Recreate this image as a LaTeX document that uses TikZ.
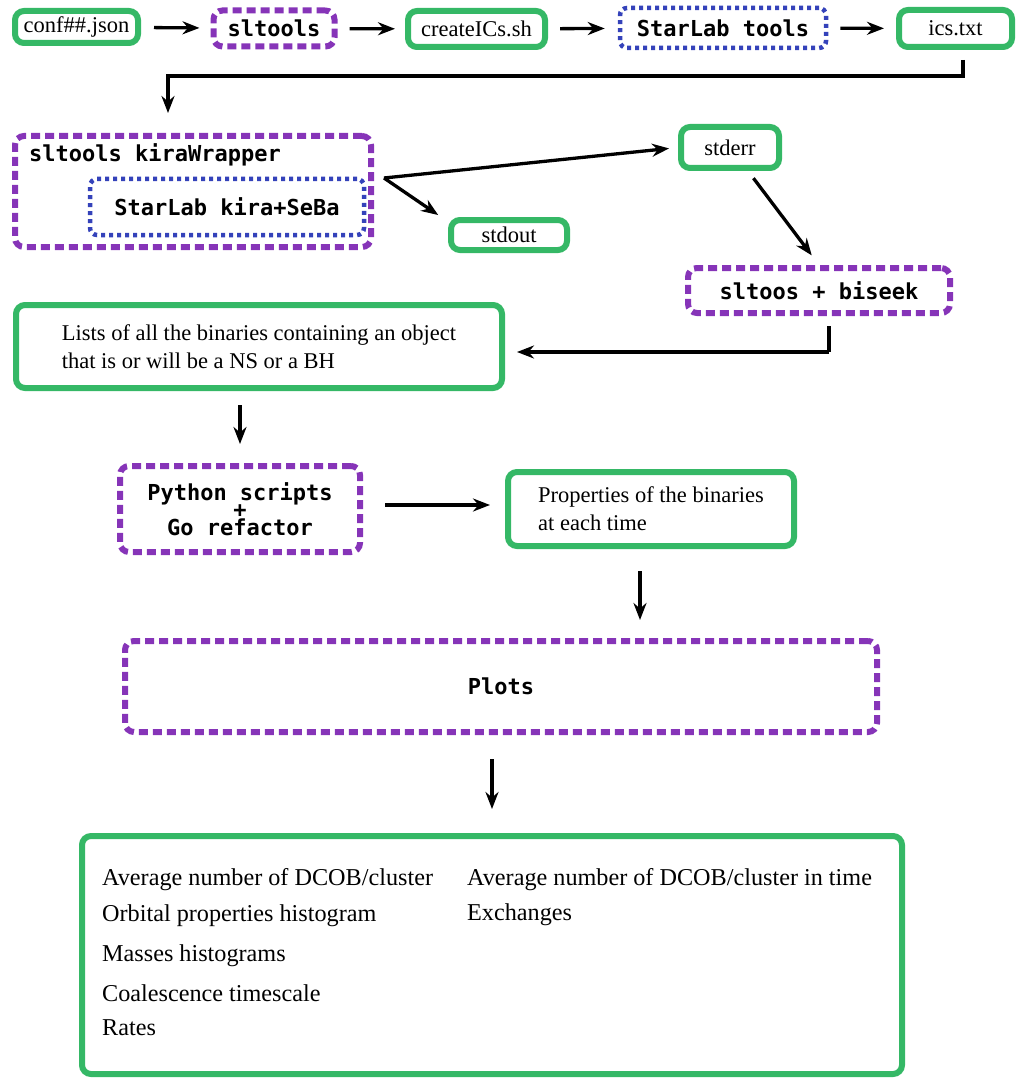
\documentclass[tikz,border=0pt]{standalone}
\usepackage{fontspec}
\setmainfont{Liberation Serif}
\newfontfamily\monob{DejaVu Sans Mono}
\usetikzlibrary{arrows.meta,calc}
\definecolor{gboxc}{RGB}{53,184,102}
\definecolor{pboxc}{RGB}{134,52,184}
\definecolor{bboxc}{RGB}{52,66,186}
\tikzset{
  gbox/.style={draw=gboxc, line width=6pt, rounded corners=9pt, inner sep=0pt, font=\fontsize{22.5}{28}\selectfont},
  pbox/.style={draw=pboxc, line width=6pt, rounded corners=9pt, dash pattern=on 9pt off 5pt, inner sep=0pt, font=\monob\bfseries\fontsize{22}{26}\selectfont},
  bbox/.style={draw=bboxc, line width=4.5pt, rounded corners=7pt, dash pattern=on 4pt off 4pt, inner sep=0pt, font=\monob\bfseries\fontsize{22}{26}\selectfont},
  conn/.style={line width=3.3pt, -{Stealth[length=17pt,width=13pt]}},
  restext/.style={anchor=base west, inner sep=0pt, font=\fontsize{24.2}{28}\selectfont},
}
\begin{document}
\begin{tikzpicture}[x=1pt,y=-1pt]
\useasboundingbox (0,0) rectangle (1019,1078);
% top row
\node[gbox, minimum width=123, minimum height=32] (conf) at (76.5,27) {conf\#\#.json};
\node[pbox, minimum width=121, minimum height=36] (slt) at (274,28.5) {sltools};
\node[gbox, minimum width=137, minimum height=36] (cics) at (476.5,29) {createICs.sh};
\node[bbox, minimum width=206, minimum height=40] (slab) at (723,28) {StarLab tools};
\node[gbox, minimum width=113, minimum height=37] (ics) at (955.5,28.5) {ics.txt};
\draw[conn, shorten <=13pt, shorten >=11pt] (conf) -- (slt);
\draw[conn, shorten <=12pt, shorten >=10pt] (slt) -- (cics);
\draw[conn, shorten <=12pt, shorten >=13pt] (cics) -- (slab);
\draw[conn, shorten <=12pt, shorten >=12pt] (slab) -- (ics);
% kira wrapper
\node[pbox, minimum width=356, minimum height=111] (kw) at (193,191.5) {};
\node[anchor=west, inner sep=0pt, font=\monob\bfseries\fontsize{22}{26}\selectfont] (kwlab) at (29,155) {sltools kiraWrapper};
\node[bbox, minimum width=274, minimum height=56] (kira) at (227,207) {StarLab kira+SeBa};
\coordinate (kwout) at (384,178);
\coordinate (icsdown) at (963,76);
\draw[conn, shorten <=10pt, shorten >=20pt] ([xshift=7.5pt]ics.south) |- (icsdown) -| ([xshift=-25pt]kw.north);
\node[gbox, minimum width=116, minimum height=30] (stdout) at (509,235) {stdout};
\node[gbox, minimum width=98, minimum height=41] (stderr) at (730,147.5) {stderr};
\draw[conn, shorten >=9pt] (kwout) -- (stderr.west);
\draw[conn, shorten >=7pt] (kwout) -- ([xshift=-4pt,yshift=-2pt]stdout.north west);
\node[pbox, minimum width=262, minimum height=45] (bis) at (819,290.5) {sltoos + biseek};
\draw[conn, shorten <=9pt, shorten >=12pt] ([xshift=18pt]stderr.south) -- (bis.north);
% lists
\node[gbox, minimum width=486, minimum height=83, align=left] (lists) at (259,346.5) {Lists of all the binaries containing an object\\that is or will be a NS or a BH};
\coordinate (bisturn) at (829,352);
\draw[line width=3.3pt, shorten <=10pt] ([xshift=10pt]bis.south) -- (bisturn);
\draw[conn, shorten >=12pt] (bisturn) -- (lists.east |- bisturn);
% python
\node[pbox, minimum width=240, minimum height=86, align=center, font=\monob\bfseries\fontsize{22}{17.5}\selectfont] (py) at (240,509) {Python scripts\\+\\Go refactor};
\draw[conn, shorten <=14pt, shorten >=19pt] (py.north |- lists.south) -- (py.north);
\node[gbox, minimum width=286, minimum height=74, align=left] (props) at (651,509) {Properties of the binaries\\at each time};
\draw[conn, shorten <=22pt, shorten >=15pt] ([yshift=4pt]py.east) -- ([yshift=4pt]props.west);
% plots
\node[pbox, minimum width=752, minimum height=91] (plots) at (501,686.5) {Plots};
\draw[conn, shorten <=22pt, shorten >=18pt] ([xshift=-11pt]props.south) -- ([xshift=-11pt]props.south |- plots.north);
% results
\node[gbox, minimum width=820, minimum height=238] (res) at (492,955) {};
\draw[conn, shorten <=24pt, shorten >=24pt] ([xshift=-9pt]plots.south) -- ([xshift=-9pt]plots.south |- res.north);
\node[restext] (r1) at (102,885) {Average number of DCOB/cluster};
\node[restext] (r2) at (102,921) {Orbital properties histogram};
\node[restext] (r3) at (102,961) {Masses histograms};
\node[restext] (r4) at (102,1001) {Coalescence timescale};
\node[restext] (r5) at (102,1035) {Rates};
\node[restext] (r6) at (467,885) {Average number of DCOB/cluster in time};
\node[restext] (r7) at (467,920) {Exchanges};
\end{tikzpicture}
\end{document}
